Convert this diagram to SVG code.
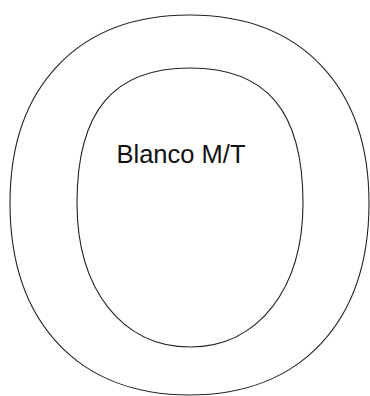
<svg xmlns="http://www.w3.org/2000/svg" width="370" height="396" viewBox="0 0 370 396">
<style>
.shape{fill:none;stroke:#222;stroke-width:1.1}
.lbl{font-family:"Liberation Sans",Arial,sans-serif;font-size:25.5px;fill:#111}
</style>
<rect width="370" height="396" fill="#fff"/>
<g id="outer">
<path class="shape" d="M10,203 C10,86.4 78.2,15 189.5,15 C300.8,15 369,86.4 369,203 C369,322 300.8,395 189.5,395 C78.2,395 10,322 10,203 Z"/>
</g>
<g id="inner">
<path class="shape" d="M77,203 C77,111.2 113.2,68 190,68 C266.8,68 303,111.2 303,203 C303,289.4 257.8,347 190,347 C122.2,347 77,289.4 77,203 Z"/>
<text class="lbl" x="181" y="163" text-anchor="middle">Blanco M/T</text>
</g>
</svg>
